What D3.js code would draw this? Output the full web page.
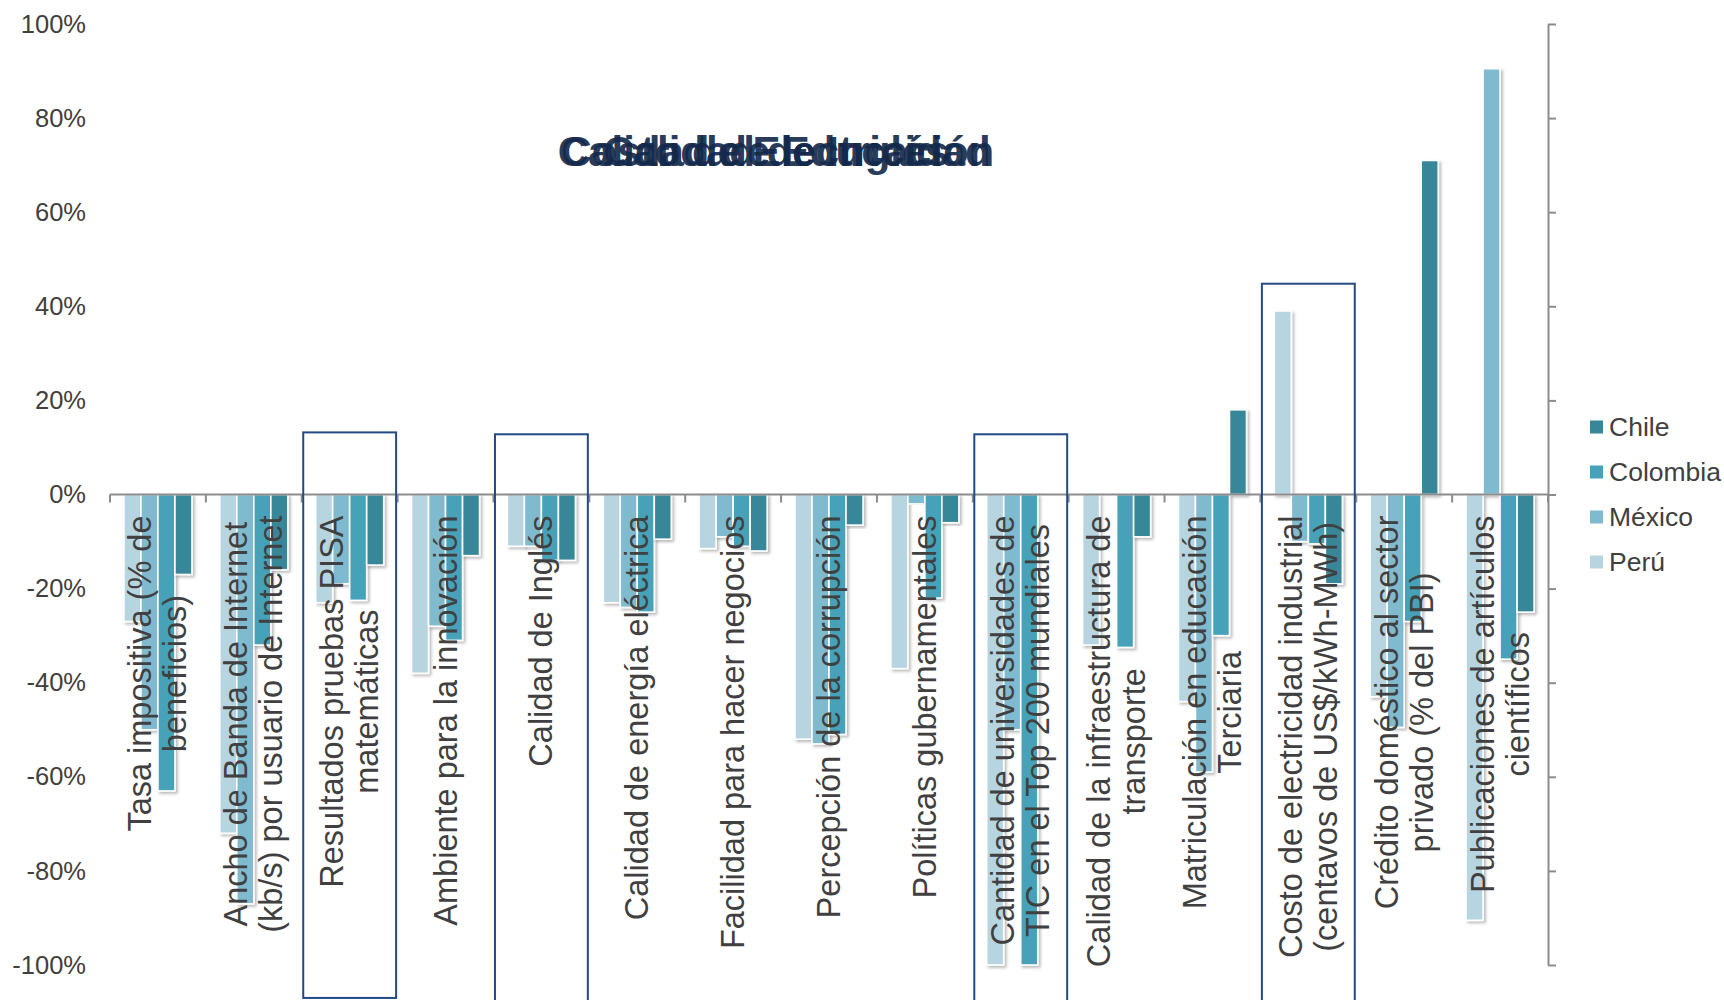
<!DOCTYPE html>
<html>
<head>
<meta charset="utf-8">
<script src="https://cdn.jsdelivr.net/npm/d3@7"></script>
<style>
  html, body { margin: 0; padding: 0; background: #ffffff; }
  svg { display: block; font-family: "Liberation Sans", Arial, sans-serif; }
</style>
</head>
<body>
<svg id="chart" width="1724" height="1000"></svg>
<script>
// ---------- data ----------
const categories = [
  "Tasa impositiva (% de|beneficios)",
  "Ancho de Banda de Internet|(kb/s) por usuario de Internet",
  "Resultados pruebas PISA|matemáticas",
  "Ambiente para la innovación",
  "Calidad de Inglés",
  "Calidad de energía eléctrica",
  "Facilidad para hacer negocios",
  "Percepción de la corrupción",
  "Políticas gubernamentales",
  "Cantidad de universidades de|TIC en el Top 200 mundiales",
  "Calidad de la infraestructura de|transporte",
  "Matriculación en educación|Terciaria",
  "Costo de electricidad industrial|(centavos de US$/kWh-MWh)",
  "Crédito doméstico al sector|privado (% del PBI)",
  "Publicaciones de artículos|científicos"
];
const seriesNames = ["Perú", "México", "Colombia", "Chile"];
const peru     = [-27, -72, -23, -38, -11, -23, -11.5, -52, -37, -100, -32, -44, 39, -43, -90.5];
const mexico   = [-50, -87, -19, -28, -11, -24, -9, -53, -2, -50, null, -59, -10, -49.5, 90.5];
const colombia = [-63, -32, -22.5, -31, -14, -25, -11, -51, -22, -100, -32.5, -30, -10.5, -27, -35];
const chile    = [-17, -16, -15, -13, -14, -9.5, -12, -6.5, -6, null, -9, 18, -19, 71, -25];
const yTicks = [100, 80, 60, 40, 20, 0, -20, -40, -60, -80, -100];
const legendOrder = ["Chile", "Colombia", "México", "Perú"];
const titles = ["Costo de Electricidad", "Calidad de Educación", "Calidad de Inglés"];
// highlighted categories (index, top value, bottom value)
const boxCats = [2, 4, 9, 12];
const boxTops = [13.2, 12.8, 12.8, 44.8];
const boxBottoms = [-107, -110, -110, -110];

// ---------- styles ----------
const colors = { "Perú": "#b7d5e0", "México": "#80bace", "Colombia": "#47a1b9", "Chile": "#388799" };
const seriesData = { "Perú": peru, "México": mexico, "Colombia": colombia, "Chile": chile };

const svg = d3.select("#chart");
const plotLeft = 110, plotRight = 1548;

const defs = svg.append("defs");
const f = defs.append("filter").attr("id", "shadow").attr("x", "-30%").attr("y", "-10%").attr("width", "160%").attr("height", "120%");
f.append("feDropShadow").attr("dx", 2).attr("dy", 2).attr("stdDeviation", 1.6)
  .attr("flood-color", "#000").attr("flood-opacity", 0.28);

const x = d3.scaleBand().domain(d3.range(categories.length))
  .range([plotLeft, plotRight]).paddingInner(0.29).paddingOuter(0.145);
const xs = d3.scaleBand().domain(seriesNames).range([0, x.bandwidth()]).padding(0);
const y = d3.scaleLinear().domain([-100, 100]).range([965, 24]);

// left tick labels (no axis line)
const leftAxis = d3.axisLeft(y).tickValues(yTicks).tickSize(0).tickPadding(0)
  .tickFormat(d => d + "%");
const gl = svg.append("g").attr("transform", "translate(86,0)").call(leftAxis);
gl.select(".domain").remove();
gl.selectAll("text").attr("font-size", 25.5).attr("fill", "#404040")
  .attr("font-family", "Liberation Sans, Arial, sans-serif");

// right axis (ticks only)
const rightAxis = d3.axisRight(y).tickValues(yTicks).tickSize(8).tickSizeOuter(0).tickFormat("");
const gr = svg.append("g").attr("transform", `translate(${plotRight},0)`).call(rightAxis);
gr.select(".domain").attr("stroke", "#8c8c8c").attr("stroke-width", 2);
gr.selectAll(".tick line").attr("stroke", "#8c8c8c").attr("stroke-width", 2);

// bars
const barsG = svg.append("g");
seriesNames.forEach(s => {
  barsG.selectAll(null)
    .data(seriesData[s].map((v, i) => ({ i, v })).filter(d => d.v !== null))
    .enter().append("rect")
    .attr("x", d => x(d.i) + xs(s))
    .attr("width", xs.bandwidth())
    .attr("y", d => Math.min(y(d.v), y(0)))
    .attr("height", d => Math.abs(y(d.v) - y(0)))
    .attr("fill", colors[s])
    .attr("stroke", "#ffffff")
    .attr("stroke-width", 1.6)
    .attr("filter", "url(#shadow)");
});

// baseline with category ticks
const base = svg.append("g");
base.append("line").attr("x1", plotLeft).attr("x2", plotRight)
  .attr("y1", y(0)).attr("y2", y(0)).attr("stroke", "#8c8c8c").attr("stroke-width", 2);
d3.range(categories.length + 1).forEach(k => {
  const xx = plotLeft + k * x.step();
  base.append("line").attr("x1", xx).attr("x2", xx)
    .attr("y1", y(0)).attr("y2", y(0) + 8).attr("stroke", "#8c8c8c").attr("stroke-width", 2);
});

// category labels, rotated
const labelTop = y(0) + 21;
categories.forEach((c, i) => {
  const lines = c.split("|");
  const cx = x(i) + x.bandwidth() / 2;
  const g = svg.append("g").attr("transform", `translate(${cx},${labelTop}) rotate(-90)`);
  const texts = lines.map((ln, j) => g.append("text")
    .text(ln)
    .attr("font-size", 32.5)
    .attr("fill", "#404040")
    .attr("text-anchor", "middle")
    .attr("dominant-baseline", "central")
    .attr("y", (j - (lines.length - 1) / 2) * 35));
  const maxW = d3.max(texts, t => t.node().getComputedTextLength());
  texts.forEach(t => t.attr("x", -maxW / 2));
});

// highlight boxes
boxCats.forEach((ci, k) => {
  const x0 = plotLeft + ci * x.step() + 1.5;
  const x1 = plotLeft + (ci + 1) * x.step() - 1.5;
  svg.append("rect")
    .attr("x", x0).attr("width", x1 - x0)
    .attr("y", y(boxTops[k])).attr("height", y(boxBottoms[k]) - y(boxTops[k]))
    .attr("fill", "none").attr("stroke", "#234a85").attr("stroke-width", 2);
});

// overlapping titles (the reference shows these stacked on top of each other)
titles.forEach(t => {
  svg.append("text").text(t)
    .attr("x", 776).attr("y", 151)
    .attr("text-anchor", "middle").attr("dominant-baseline", "central")
    .attr("font-size", 42).attr("font-weight", "bold")
    .attr("fill", "#13294b").attr("fill-opacity", 0.92);
});

// legend
const lg = svg.append("g");
legendOrder.forEach((s, k) => {
  const cy = 427 + k * 45;
  lg.append("rect").attr("x", 1590).attr("y", cy - 6.5).attr("width", 13).attr("height", 13)
    .attr("fill", colors[s]);
  lg.append("text").text(s).attr("x", 1609).attr("y", cy)
    .attr("dominant-baseline", "central").attr("font-size", 26.5).attr("fill", "#404040");
});
</script>
</body>
</html>
